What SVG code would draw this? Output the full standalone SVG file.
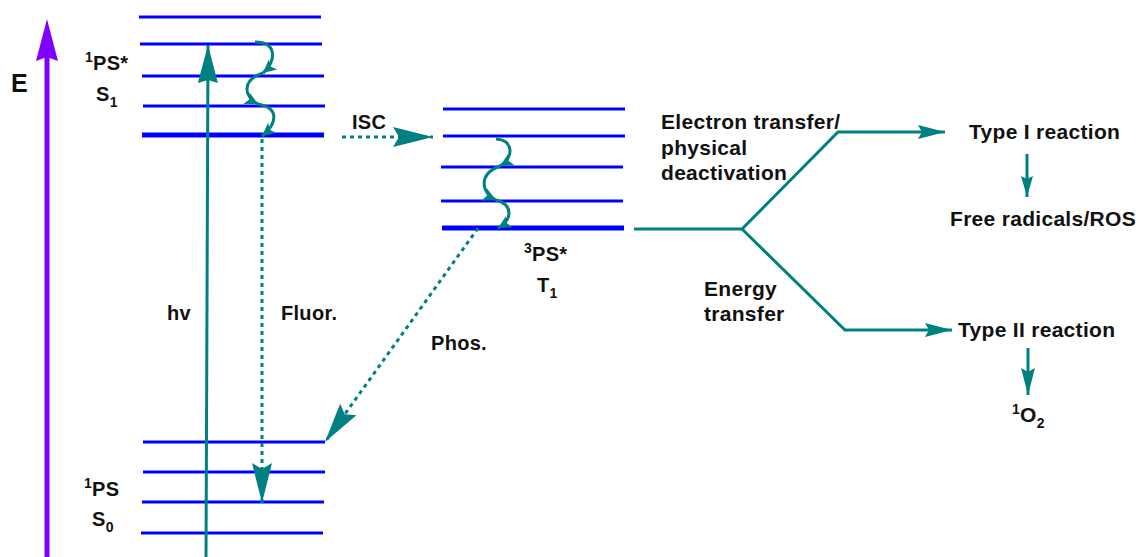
<svg xmlns="http://www.w3.org/2000/svg" width="1136" height="557" viewBox="0 0 1136 557">
<style>
.lvl{stroke:#0000ff;stroke-width:3;fill:none}
.lvlb{stroke:#0000ff;stroke-width:5;fill:none}
.con{stroke:#008080;stroke-width:3;fill:none}
.dot{stroke:#008080;stroke-width:3;fill:none;stroke-dasharray:4 4}
.wav{stroke:#008080;stroke-width:3;fill:none}
text{font-family:"Liberation Sans",Arial,sans-serif;font-weight:bold;font-size:20px;fill:#111;letter-spacing:0.3px}
.r{font-size:21px}
.sub{font-size:14px}
</style>
<defs>
<marker id="big" markerUnits="userSpaceOnUse" markerWidth="42" markerHeight="22" refX="40" refY="11" orient="auto" overflow="visible">
<path d="M0,1 L40,11 L0,21 L6,11 Z" fill="#008080"/>
</marker>
<marker id="hvh" markerUnits="userSpaceOnUse" markerWidth="40" markerHeight="22" refX="38" refY="11" orient="auto" overflow="visible">
<path d="M0,1 L38,11 L0,21 L3,11 Z" fill="#008080"/>
</marker>
<marker id="sm" markerUnits="userSpaceOnUse" markerWidth="28" markerHeight="16" refX="27" refY="7" orient="auto" overflow="visible">
<path d="M0,0 L27,7 L0,14 L4,7 Z" fill="#008080"/>
</marker>
<marker id="md" markerUnits="userSpaceOnUse" markerWidth="22" markerHeight="14" refX="21" refY="6" orient="auto" overflow="visible">
<path d="M0,0 L21,6 L0,12 L3,6 Z" fill="#008080"/>
</marker>
<marker id="tiny" markerUnits="userSpaceOnUse" markerWidth="16" markerHeight="14" refX="13" refY="6.5" orient="auto" overflow="visible">
<path d="M0,0 L13,6.5 L0,13 L3,6.5 Z" fill="#008080"/>
</marker>
</defs>

<g id="energy-axis">
<line x1="47" y1="560" x2="47" y2="56" stroke="#8000ff" stroke-width="5"/>
<path d="M47,19 L58,61 L47,57 L36,61 Z" fill="#8000ff"/>
<text x="11" y="92" style="font-size:25px">E</text>
</g>

<g id="S1">
<line class="lvl" x1="139" y1="17" x2="321" y2="17"/>
<line class="lvl" x1="140" y1="44" x2="322" y2="44"/>
<line class="lvl" x1="142" y1="76" x2="324" y2="76"/>
<line class="lvl" x1="143" y1="106" x2="325" y2="106"/>
<line class="lvlb" x1="142" y1="135" x2="324" y2="135"/>
<text x="85" y="70"><tspan class="sub" dy="-8">1</tspan><tspan dy="8">PS*</tspan></text>
<text x="96" y="101">S<tspan class="sub" dy="6">1</tspan></text>
</g>

<g id="T1">
<line class="lvl" x1="443" y1="109" x2="625" y2="109"/>
<line class="lvl" x1="443" y1="136" x2="625" y2="136"/>
<line class="lvl" x1="441" y1="167" x2="623" y2="167"/>
<line class="lvl" x1="441" y1="201" x2="623" y2="201"/>
<line class="lvlb" x1="442" y1="228" x2="624" y2="228"/>
<text x="524" y="261"><tspan class="sub" dy="-8">3</tspan><tspan dy="8">PS*</tspan></text>
<text x="537" y="292">T<tspan class="sub" dy="6">1</tspan></text>
</g>

<g id="S0">
<line class="lvl" x1="143" y1="442" x2="325" y2="442"/>
<line class="lvl" x1="143" y1="472" x2="325" y2="472"/>
<line class="lvl" x1="142" y1="502" x2="324" y2="502"/>
<line class="lvl" x1="141" y1="533" x2="323" y2="533"/>
<text x="84" y="496"><tspan class="sub" dy="-8">1</tspan><tspan dy="8">PS</tspan></text>
<text x="92" y="526">S<tspan class="sub" dy="6">0</tspan></text>
</g>

<g id="type1">
<text class="r" x="969" y="139">Type I reaction</text>
</g>
<g id="radicals">
<text class="r" x="950" y="226">Free radicals/ROS</text>
</g>
<g id="type2">
<text class="r" x="958" y="337">Type II reaction</text>
</g>
<g id="singlet-oxygen">
<text class="r" x="1012" y="422"><tspan class="sub" dy="-8">1</tspan><tspan dy="8">O</tspan><tspan class="sub" dy="6">2</tspan></text>
</g>

<g id="connectors">
<line class="con" stroke-width="2.5" x1="206" y1="560" x2="208" y2="45" marker-end="url(#hvh)"/>
<path class="wav" d="M255,42 C278,42 276,62 263,73" marker-end="url(#tiny)"/>
<path class="wav" d="M263,73 C241,80 244,97 258,104" marker-end="url(#tiny)"/>
<path class="wav" d="M258,104 C280,108 277,124 262,136" marker-end="url(#tiny)"/>
<path class="wav" d="M496,139 C514,140 514,158 500,166" marker-end="url(#tiny)"/>
<path class="wav" d="M500,166 C478,174 481,193 496,200" marker-end="url(#tiny)"/>
<path class="wav" d="M496,200 C514,205 512,220 498,228" marker-end="url(#tiny)"/>
<line class="dot" x1="262" y1="139" x2="262" y2="503" marker-end="url(#big)"/>
<line class="dot" x1="342" y1="137" x2="433" y2="137" marker-end="url(#big)"/>
<line class="dot" x1="478" y1="228" x2="325" y2="442" marker-end="url(#big)"/>
<polyline class="con" points="634,229 742,229 838,132 945,132" marker-end="url(#sm)"/>
<polyline class="con" points="742,229 845,330 952,330" marker-end="url(#sm)"/>
<line class="con" x1="1027" y1="154" x2="1027" y2="197" marker-end="url(#md)"/>
<line class="con" x1="1028" y1="348" x2="1028" y2="395" marker-end="url(#sm)"/>
<text x="352" y="129">ISC</text>
<text x="167" y="320">hv</text>
<text x="281" y="320">Fluor.</text>
<text x="431" y="350">Phos.</text>
<text class="r" x="661" y="129">Electron transfer/</text>
<text class="r" x="661" y="155">physical</text>
<text class="r" x="661" y="180">deactivation</text>
<text class="r" x="704" y="296">Energy</text>
<text class="r" x="704" y="321">transfer</text>
</g>
</svg>
